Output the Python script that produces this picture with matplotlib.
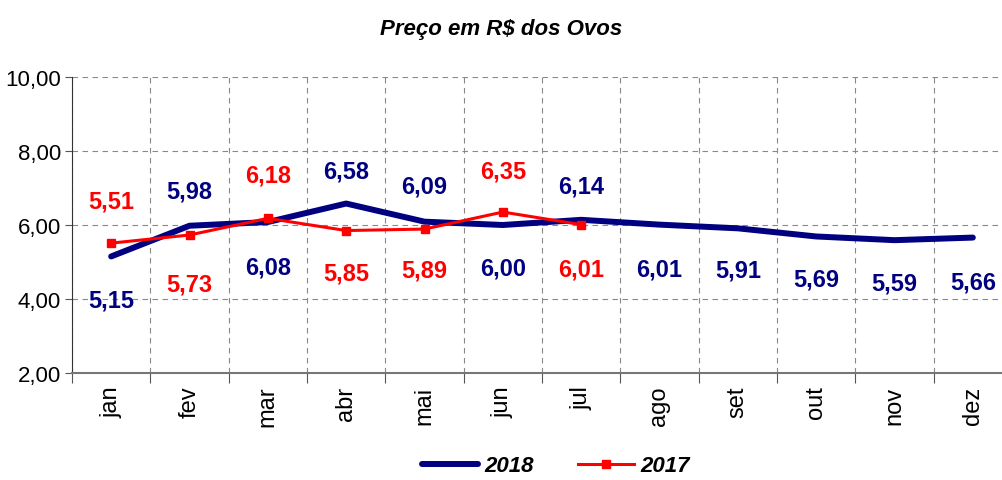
import matplotlib
matplotlib.use("Agg")
import matplotlib.pyplot as plt
from matplotlib.ticker import FuncFormatter, FixedLocator

meses = ["jan", "fev", "mar", "abr", "mai", "jun", "jul", "ago", "set", "out", "nov", "dez"]
preco_2018 = [5.15, 5.98, 6.08, 6.58, 6.09, 6.00, 6.14, 6.01, 5.91, 5.69, 5.59, 5.66]
preco_2017 = [5.51, 5.73, 6.18, 5.85, 5.89, 6.35, 6.01]

# label offsets in pixels (positive = below the point)
dy_2018 = [44, -35, 45, -33, -36, 43, -34, 44, 42, 43, 43, 44]
dy_2017 = [-42, 49, -43, 42, 41, -41, 44]

NAVY = "#000080"
RED = "#ff0000"
fonte = ["Liberation Sans", "DejaVu Sans"]

fig = plt.figure(figsize=(10.02, 4.81), dpi=100)
ax = fig.add_axes([72 / 1002, 1 - 374 / 481, 940 / 1002, 296 / 481])

x18 = list(range(len(preco_2018)))
x17 = list(range(len(preco_2017)))
ax.plot(x18, preco_2018, color=NAVY, lw=4.3, solid_capstyle="round", label="2018", zorder=3)
ax.plot(x17, preco_2017, color=RED, lw=2.2, marker="s", ms=5.5, label="2017", zorder=4)

def fmt(v):
    return f"{v:.2f}".replace(".", ",")

for xi, v, d in zip(x18, preco_2018, dy_2018):
    ax.annotate(fmt(v), (xi, v), xytext=(0, -d * 0.72), textcoords="offset points",
                ha="center", va="center", color=NAVY, fontsize=17, fontweight="bold",
                family=fonte)
for xi, v, d in zip(x17, preco_2017, dy_2017):
    ax.annotate(fmt(v), (xi, v), xytext=(0, -d * 0.72), textcoords="offset points",
                ha="center", va="center", color=RED, fontsize=17, fontweight="bold",
                family=fonte)

ax.set_ylim(2, 10)
ax.set_xlim(-0.5, len(meses) - 0.5)
ax.set_yticks([2, 4, 6, 8, 10])
ax.yaxis.set_major_formatter(FuncFormatter(lambda v, p: fmt(v)))
ax.xaxis.set_major_locator(FixedLocator([i - 0.5 for i in range(len(meses) + 1)]))
ax.xaxis.set_major_formatter(FuncFormatter(lambda v, p: ""))
ax.set_xticks(range(len(meses)), minor=True)
ax.set_xticklabels(meses, minor=True, rotation=90, fontsize=17, family=fonte)
ax.tick_params(axis="x", which="minor", length=0, pad=9)
ax.tick_params(axis="x", which="major", length=7, color="#555555", direction="out")
ax.tick_params(axis="y", length=5, color="#555555", direction="out", labelsize=16, pad=3)
for lab in ax.get_yticklabels():
    lab.set_family(fonte)

ax.grid(True, which="major", color="#888888", linestyle=(0, (5, 4)), linewidth=0.8)
ax.spines["top"].set_visible(False)
ax.spines["right"].set_visible(False)
ax.spines["left"].set_color("#333333")
ax.spines["bottom"].set_color("#777777")
ax.spines["bottom"].set_linewidth(1.5)

fig.text(0.5, 1 - 30 / 481, "Preço em R$ dos Ovos", ha="center", va="center",
         fontsize=16, fontweight="bold", fontstyle="italic", family=fonte)

fig.legend(loc="center", bbox_to_anchor=(556 / 1002, 1 - 467 / 481), ncol=2, frameon=False,
           prop={"family": fonte, "weight": "bold", "style": "italic", "size": 16},
           handlelength=2.5, columnspacing=2.0, handletextpad=0.3,
           borderpad=0.1)

fig.savefig("out.png", dpi=100)
